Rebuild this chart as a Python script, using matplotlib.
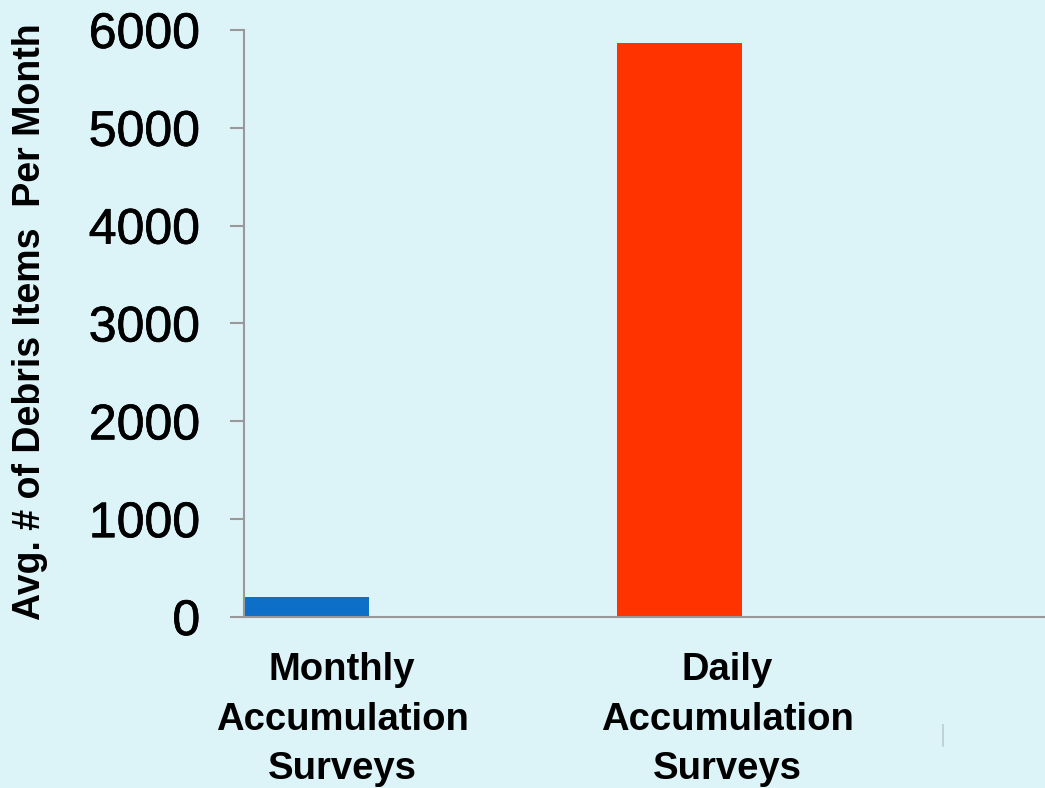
import matplotlib
matplotlib.use("Agg")
import matplotlib.pyplot as plt
import matplotlib.patheffects as pe
import numpy as np

categories = ["Monthly\nAccumulation\nSurveys", "Daily\nAccumulation\nSurveys"]
values = [200, 5870]
bar_colors = ["#0E6FC8", "#FF3300"]
yticks = [0, 1000, 2000, 3000, 4000, 5000, 6000]

bg = "#DCF3F8"
plt.rcParams['font.family'] = ['Liberation Sans', 'DejaVu Sans']

fig = plt.figure(figsize=(10.45, 7.88), dpi=100, facecolor=bg)
ax = fig.add_axes([0.2335, 0.217, 0.7665, 0.745], facecolor=bg)

x = np.arange(len(categories))
ax.bar(x, values, width=0.333, color=bar_colors)

ax.set_xlim(-0.169, 1.981)
ax.set_ylim(0, 6000)
ax.set_yticks(yticks)
ax.set_yticklabels([str(v) for v in yticks], fontsize=36,
                   path_effects=[pe.withStroke(linewidth=0.5, foreground='black')])
# category labels sit a little right of the bars
ax.set_xticks([0.094, 1.128])
ax.set_xticklabels(categories, fontsize=27.5, fontweight='bold', linespacing=1.47)

for s in ['top', 'right']:
    ax.spines[s].set_visible(False)
for s in ['left', 'bottom']:
    ax.spines[s].set_color('#999999')
    ax.spines[s].set_linewidth(1.5)

ax.tick_params(axis='y', length=10, width=1.5, color='#999999', pad=21.5)
ax.tick_params(axis='x', length=0, pad=25.5)

ax.set_ylabel("Avg. # of Debris Items  Per Month", fontsize=27, fontweight='bold')
ax.yaxis.set_label_coords(-0.245, 0.5025)

# small stray mark near the bottom right of the slide
fig.add_artist(plt.Line2D([943/1045, 943/1045], [1-725/788, 1-746/788], color='#B8CCD2', lw=1.2))

fig.savefig("out.png", dpi=100, facecolor=bg)
